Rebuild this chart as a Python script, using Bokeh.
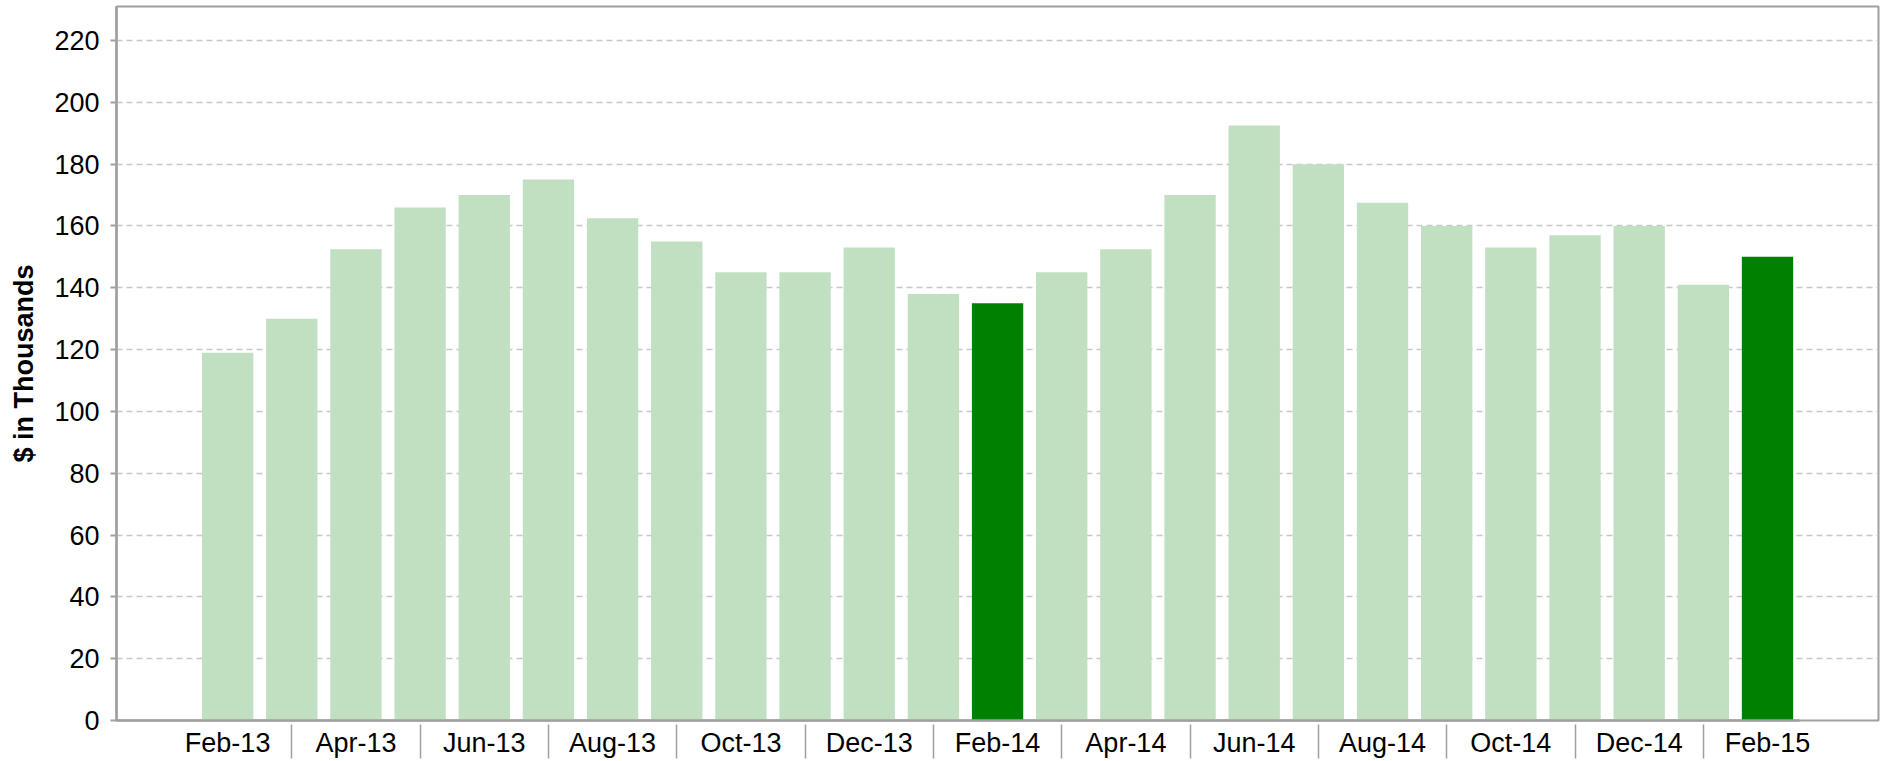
from bokeh.plotting import figure
from bokeh.models import Range1d, FixedTicker, SingleIntervalTicker
from bokeh.embed import file_html
from bokeh.resources import INLINE

months = ["Feb-13", "Mar-13", "Apr-13", "May-13", "Jun-13", "Jul-13", "Aug-13",
          "Sep-13", "Oct-13", "Nov-13", "Dec-13", "Jan-14", "Feb-14", "Mar-14",
          "Apr-14", "May-14", "Jun-14", "Jul-14", "Aug-14", "Sep-14", "Oct-14",
          "Nov-14", "Dec-14", "Jan-15", "Feb-15"]
values = [119, 130, 152.5, 166, 170, 175, 162.5, 155, 145, 145, 153, 138, 135,
          145, 152.5, 170, 192.5, 180, 167.5, 160, 153, 157, 160, 141, 150]
highlight = ["Feb-14", "Feb-15"]

LIGHT = "#c1dfc1"
DARK = "#008000"
GREY = "#a0a0a0"
FONT = "Liberation Sans"

xs = list(range(len(months)))
colors = [DARK if m in highlight else LIGHT for m in months]

p = figure(width=1882, height=760, output_backend="svg", toolbar_location=None,
           x_range=Range1d(-1.732, 25.73), y_range=Range1d(0, 231),
           min_border_left=116, min_border_top=6, min_border_right=4,
           min_border_bottom=0)

p.vbar(x=xs, top=values, width=0.8, bottom=0, fill_color=colors, line_color=None)

# x axis: labels every other month, separators between them
label_pos = xs[::2]
sep_pos = xs[1::2]
p.xaxis.ticker = FixedTicker(ticks=label_pos, minor_ticks=sep_pos)
p.xaxis.major_label_overrides = {i: months[i] for i in label_pos}
p.xaxis.major_tick_line_color = None
p.xaxis.major_tick_out = 0
p.xaxis.major_tick_in = 0
p.xaxis.minor_tick_line_color = GREY
p.xaxis.minor_tick_line_width = 1.5
p.xaxis.minor_tick_out = 38
p.xaxis.minor_tick_in = -4
p.xaxis.major_label_standoff = -31
p.xaxis.major_label_text_font = FONT
p.xaxis.major_label_text_font_size = "27px"
p.xaxis.major_label_text_color = "#000000"
p.xaxis.axis_line_color = GREY
p.xaxis.axis_line_width = 2.5
p.xaxis.bounds = (-1.732, 24.5)

# y axis
p.yaxis.ticker = SingleIntervalTicker(interval=20)
p.yaxis.minor_tick_line_color = None
p.yaxis.major_tick_out = 6
p.yaxis.major_tick_in = 0
p.yaxis.major_tick_line_color = GREY
p.yaxis.major_tick_line_width = 2
p.yaxis.axis_line_color = GREY
p.yaxis.axis_line_width = 2.5
p.yaxis.major_label_standoff = 11
p.yaxis.major_label_text_font = FONT
p.yaxis.major_label_text_font_size = "27px"
p.yaxis.major_label_text_color = "#000000"
p.yaxis.axis_label = "$ in Thousands"
p.yaxis.axis_label_text_font = FONT
p.yaxis.axis_label_text_font_size = "27px"
p.yaxis.axis_label_text_font_style = "bold"
p.yaxis.axis_label_text_color = "#000000"
p.yaxis.axis_label_standoff = 12

p.xgrid.grid_line_color = None
p.ygrid.grid_line_color = "#c8c8c8"
p.ygrid.grid_line_dash = "6 4"
p.ygrid.grid_line_width = 1.3

p.outline_line_color = GREY
p.outline_line_width = 2
p.background_fill_color = "white"
p.border_fill_color = "white"

open("out.html", "w").write(file_html(p, INLINE))
